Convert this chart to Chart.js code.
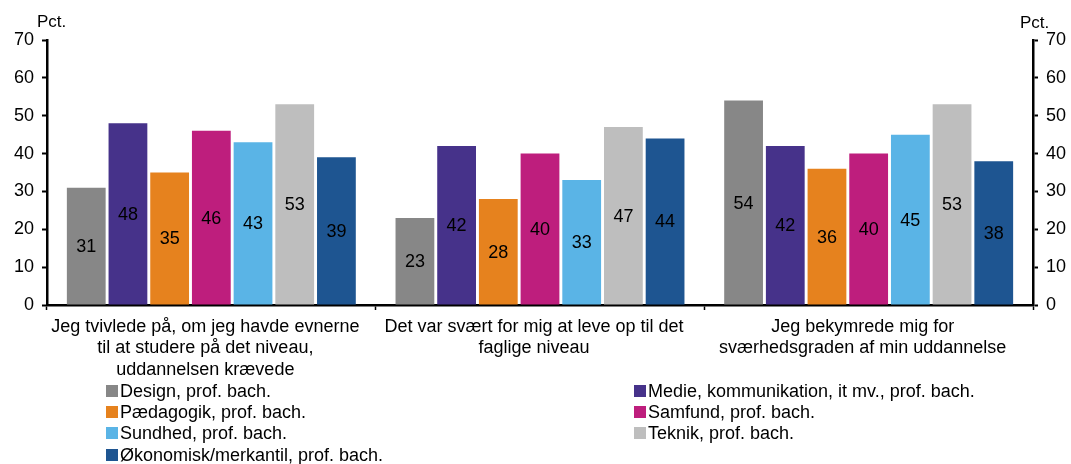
<!DOCTYPE html>
<html>
<head>
<meta charset="utf-8">
<script src="https://cdn.jsdelivr.net/npm/chart.js@4/dist/chart.umd.min.js"></script>
<style>
  body { margin: 0; background: #fff; }
  #wrap { width: 1071px; height: 464px; }
</style>
</head>
<body>
<div id="wrap"><canvas id="chart" width="1071" height="464"></canvas></div>
<script>
// categories (x axis)
const categories = [
  ['Jeg tvivlede på, om jeg havde evnerne', 'til at studere på det niveau,', 'uddannelsen krævede'],
  ['Det var svært for mig at leve op til det', 'faglige niveau'],
  ['Jeg bekymrede mig for', 'sværhedsgraden af min uddannelse']
];

const seriesNames = [
  'Design, prof. bach.',
  'Medie, kommunikation, it mv., prof. bach.',
  'Pædagogik, prof. bach.',
  'Samfund, prof. bach.',
  'Sundhed, prof. bach.',
  'Teknik, prof. bach.',
  'Økonomisk/merkantil, prof. bach.'
];

const design    = [31, 23, 54];
const medie     = [48, 42, 42];
const paedagog  = [35, 28, 36];
const samfund   = [46, 40, 40];
const sundhed   = [43, 33, 45];
const teknik    = [53, 47, 53];
const oekonomi  = [39, 44, 38];

const colors = ['#878787', '#46328a', '#e6821e', '#be1e7d', '#5ab4e6', '#bebebe', '#1e5591'];
const yTicks = [0, 10, 20, 30, 40, 50, 60, 70];

const FONT = "'Liberation Sans', Arial, sans-serif";

const allSeries = [design, medie, paedagog, samfund, sundhed, teknik, oekonomi];
const datasets = allSeries.map(function (vals, i) {
  return {
    label: seriesNames[i],
    data: vals,
    backgroundColor: colors[i],
    borderWidth: 0,
    categoryPercentage: 0.888,
    barPercentage: 0.93,
    yAxisID: 'y'
  };
});

// labels inside bars, pct. titles and the legend
const extras = {
  id: 'extras',
  afterDatasetsDraw(chart) {
    const ctx = chart.ctx;
    ctx.save();
    ctx.font = '18px ' + FONT;
    ctx.fillStyle = '#000';
    ctx.textAlign = 'center';
    ctx.textBaseline = 'middle';
    for (let d = 0; d < allSeries.length; d++) {
      const meta = chart.getDatasetMeta(d);
      meta.data.forEach(function (bar, i) {
        const v = chart.data.datasets[d].data[i];
        ctx.fillText(String(v), bar.x, (bar.y + bar.base) / 2 + 1);
      });
    }
    ctx.restore();
  },
  afterDraw(chart) {
    const ctx = chart.ctx;
    ctx.save();
    ctx.font = '17px ' + FONT;
    ctx.fillStyle = '#000';
    ctx.textBaseline = 'middle';
    ctx.textAlign = 'left';
    ctx.fillText('Pct.', 37, 22);
    ctx.fillText('Pct.', 1020, 23);

    // legend, two columns
    ctx.font = '18px ' + FONT;
    const colX = [106, 634];
    const rowY = [391, 412, 433, 455];
    for (let i = 0; i < seriesNames.length; i++) {
      const x = colX[i % 2];
      const y = rowY[Math.floor(i / 2)];
      ctx.fillStyle = colors[i];
      ctx.fillRect(x, y - 6, 12, 12);
      ctx.fillStyle = '#000';
      ctx.fillText(seriesNames[i], x + 14, y + 1);
    }
    ctx.restore();
  }
};

const yScaleBase = {
  type: 'linear',
  min: 0,
  max: 70,
  afterBuildTicks(axis) { axis.ticks = yTicks.map(v => ({ value: v })); },
  ticks: { font: { size: 18, family: FONT }, color: '#000', padding: 8 },
  grid: { drawOnChartArea: false, drawTicks: true, tickLength: 5, tickColor: '#000', tickWidth: 2 },
  border: { display: true, color: '#000', width: 2.5 }
};

new Chart(document.getElementById('chart'), {
  type: 'bar',
  data: { labels: categories, datasets: datasets },
  plugins: [extras],
  options: {
    responsive: false,
    animation: false,
    layout: { padding: { top: 40, left: 0, right: 0, bottom: 0 } },
    plugins: { legend: { display: false }, tooltip: { enabled: false } },
    scales: {
      x: {
        stacked: false,
        ticks: { font: { size: 18, family: FONT, lineHeight: 1.2 }, color: '#000', padding: 6, labelOffset: -6, maxRotation: 0, autoSkip: false },
        grid: { drawOnChartArea: false, drawTicks: true, tickLength: 5, tickColor: '#000', tickWidth: 1.5, offset: true },
        border: { display: true, color: '#000', width: 2.5 },
        afterFit(axis) { axis.height = 159; }
      },
      y: Object.assign({}, yScaleBase, {
        position: 'left',
        afterFit(axis) { axis.width = 47; }
      }),
      y2: Object.assign({}, yScaleBase, {
        position: 'right',
        display: true,
        afterFit(axis) { axis.width = 38; }
      })
    }
  }
});
</script>
</body>
</html>
